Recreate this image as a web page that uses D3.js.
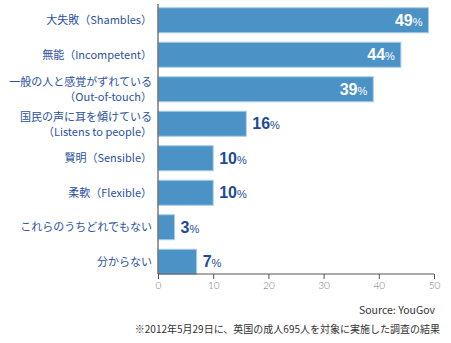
<!DOCTYPE html>
<html><head><meta charset="utf-8">
<script src="https://cdn.jsdelivr.net/npm/d3@7"></script>
<style>body{margin:0;background:#fff;}svg{display:block;font-family:"Noto Sans CJK JP","Noto Sans",sans-serif;}</style>
</head><body><svg id="c" width="451" height="343"></svg>
<script>
const labelsJa = ["大失敗（Shambles）","無能（Incompetent）","一般の人と感覚がずれている","国民の声に耳を傾けている","賢明（Sensible）","柔軟（Flexible）","これらのうちどれでもない","分からない"];
const labelsSub = [null,null,"（Out-of-touch）","（Listens to people）",null,null,null,null];
const values = [49,44,39,16,10,10,3,7];
const ticks = [0,10,20,30,40,50];
const source = "Source: YouGov";
const note = "※2012年5月29日に、英国の成人695人を対象に実施した調査の結果";

const svg = d3.select("#c");
const x = d3.scaleLinear().domain([0,50]).range([158,434]);
const y = d3.scaleBand().domain(d3.range(values.length)).range([3,279]).paddingInner(0.275).paddingOuter(0.1375);

svg.selectAll("rect.bar").data(values).join("rect").attr("class","bar")
  .attr("x",x(0)).attr("y",(d,i)=>y(i)).attr("width",d=>x(d)-x(0)).attr("height",y.bandwidth())
  .attr("fill","#4b92c6").attr("stroke","#a9cde8").attr("stroke-width",1);

// category labels
values.forEach((v,i)=>{
  const cy = y(i)+y.bandwidth()/2;
  const g = svg.append("text").attr("text-anchor","end").attr("fill","#2b52a0").attr("font-size",11);
  if(labelsSub[i]){
    g.append("tspan").attr("x",152).attr("y",cy-3).text(labelsJa[i]);
    g.append("tspan").attr("x",152).attr("y",cy+12).text(labelsSub[i]);
  } else {
    g.attr("x",152).attr("y",cy+4).text(labelsJa[i]);
  }
});

// value labels
values.forEach((v,i)=>{
  const cy = y(i)+y.bandwidth()/2;
  const inside = v>30;
  const t = svg.append("text").attr("y",cy+5.5).attr("font-family","'Liberation Sans',Arial,sans-serif")
    .attr("fill",inside?"#ffffff":"#1d4a9a")
    .attr("x",inside?x(v)-6:x(v)+6).attr("text-anchor",inside?"end":"start");
  t.append("tspan").attr("font-size",16).attr("font-weight","bold").text(v);
  t.append("tspan").attr("font-size",11).text("%");
});

// axes
const axisY = 274;
const ax = svg.append("g").attr("transform",`translate(0,${axisY})`);
ax.call(d3.axisBottom(x).tickValues(ticks).tickSize(5).tickPadding(3).tickFormat(d3.format("d")));
ax.select(".domain").attr("stroke","#555").attr("d",`M${x(0)},0H${x(50)}`);
ax.selectAll(".tick line").attr("stroke","#555");
ax.selectAll(".tick text").attr("fill","#777").attr("font-size",10).attr("font-family","Lato,'Noto Sans',sans-serif").attr("font-weight",300);
svg.append("line").attr("x1",x(0)).attr("x2",x(0)).attr("y1",4).attr("y2",axisY).attr("stroke","#666").attr("stroke-width",1.3);

svg.append("text").attr("x",435).attr("y",314).attr("text-anchor","end").attr("font-size",10.5).attr("fill","#333").text(source);
svg.append("text").attr("x",440).attr("y",333).attr("text-anchor","end").attr("font-size",10).attr("fill","#333").text(note);
</script></body></html>
